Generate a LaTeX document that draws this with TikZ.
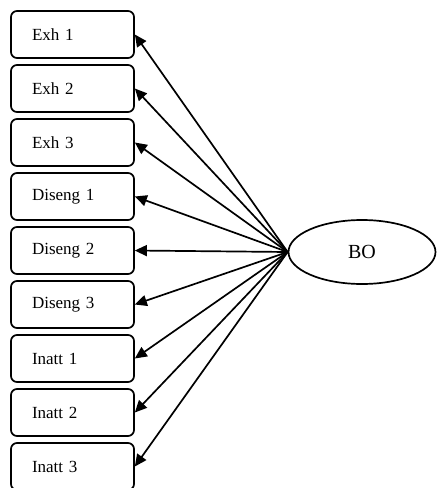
\documentclass[tikz,border=0pt]{standalone}
\usepackage{fontspec}
\setmainfont{Liberation Serif}
\usepackage{tikz}
\usetikzlibrary{shapes.geometric, arrows.meta}

\begin{document}
\begin{tikzpicture}[x=1pt, y=1pt,
        item/.style={draw, line width=1.7pt, rounded corners=6pt,
            minimum height=47pt, text width=81pt, inner xsep=21pt, inner ysep=0pt,
            align=left, font=\fontsize{17}{20}\selectfont},
        factor/.style={draw, ellipse, line width=1.7pt, minimum width=147pt,
            minimum height=64pt, inner sep=0pt, font=\fontsize{20}{24}\selectfont},
        load/.style={line width=1.7pt, -{Triangle[length=12pt, width=11pt]}}]
        \useasboundingbox (0,0) rectangle (437,-488);

        % Draw the factor
        \node[factor] (bo) at (362,-252) {BO};

        % Draw the indicators and their loadings
        \foreach \lab [count=\i] in {Exh 1, Exh 2, Exh 3, Diseng 1, Diseng 2, Diseng 3, Inatt 1, Inatt 2, Inatt 3} {
            \node[item] (it\i) at (72.5, -34.5-54*\i+54) {\lab};
            \draw[load] (bo.west) -- (it\i.east);
        }
    \end{tikzpicture}
\end{document}
